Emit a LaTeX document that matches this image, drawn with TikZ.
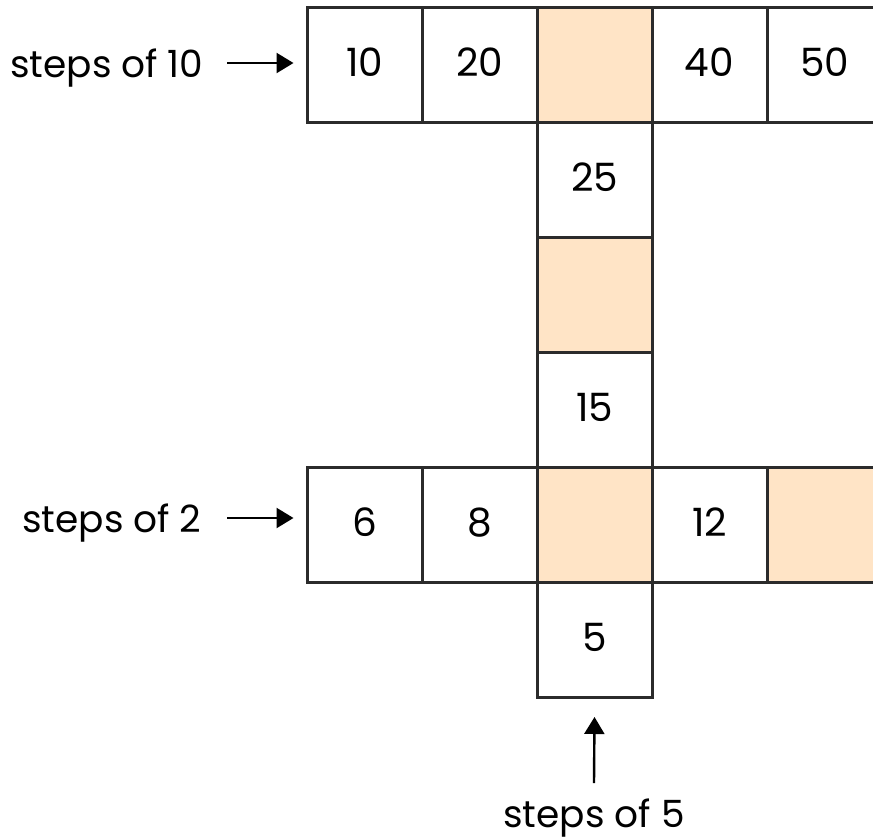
\documentclass[tikz,border=0pt]{standalone}
\usepackage{fontspec}
\setmainfont{Poppins}
\usetikzlibrary{arrows.meta}
\definecolor{cellline}{HTML}{2B2B2B}
\definecolor{cellfill}{HTML}{FFE4C6}
\tikzset{
  cell/.style={draw=cellline, line width=3pt, minimum width=115pt, minimum height=115pt, inner sep=0pt, anchor=center, text depth=6pt, font=\fontsize{39}{46}\selectfont},
  hl/.style={cell, fill=cellfill},
  lbl/.style={inner sep=0pt, font=\fontsize{37.5}{45}\selectfont},
  arr/.style={line width=2.4pt, -{Triangle[length=17pt, width=20pt]}}
}
\begin{document}
\begin{tikzpicture}[x=1pt,y=-1pt]
\useasboundingbox (0,0) rectangle (873,839);
\clip (0,0) rectangle (873,839);
% top row
\node[cell] (t1) at (364.5,65) {10};
\node[cell] (t2) at (479.5,65) {20};
\node[hl]   (t3) at (594.5,65) {};
\node[cell] (t4) at (709.5,65) {40};
\node[cell] (t5) at (824.5,65) {50};
% column
\node[cell] (v1) at (594.5,180) {25};
\node[hl]   (v2) at (594.5,295) {};
\node[cell] (v3) at (594.5,410) {15};
% bottom row
\node[cell] (b1) at (364.5,525) {6};
\node[cell] (b2) at (479.5,525) {8};
\node[hl]   (b3) at (594.5,525) {};
\node[cell] (b4) at (709.5,525) {12};
\node[hl]   (b5) at (824.5,525) {};
\node[cell] (v4) at (594.5,640) {5};
% labels
\node[lbl, anchor=base west] (l10) at (10,77) {steps of 10};
\node[lbl, anchor=base west] (l2) at (22,532) {steps of 2};
\node[lbl, anchor=base] (l5) at (594,827) {steps of 5};
% arrow ends
\coordinate (a10) at (227,63);
\coordinate (a2) at (227,518);
\coordinate (a5) at (594,783);
% arrows
\draw[arr] (a10) -- ([xshift=-12pt]t1.west |- a10);
\draw[arr] (a2) -- ([xshift=-12pt]b1.west |- a2);
\draw[arr] (a5) -- ([yshift=-18pt]v4.south);
\end{tikzpicture}
\end{document}
